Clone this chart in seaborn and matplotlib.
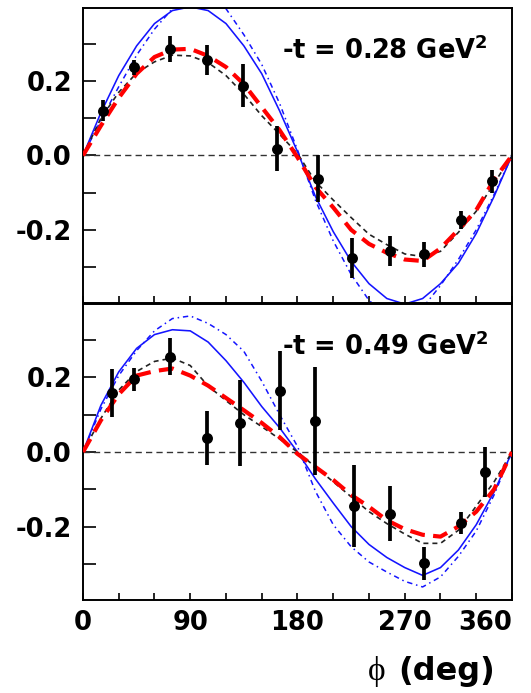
import matplotlib
matplotlib.use("Agg")
import matplotlib.pyplot as plt
import matplotlib.transforms as mtransforms
import seaborn as sns

# ---------------- data ----------------
phi_grid = [0, 15, 30, 45, 60, 75, 90, 105, 120, 135, 150, 165, 180,
            195, 210, 225, 240, 255, 270, 285, 300, 315, 330, 345, 360]

# panel 1 : -t = 0.28 GeV^2
top_blue_solid = [0, 0.115, 0.215, 0.295, 0.355, 0.39, 0.40, 0.39, 0.355, 0.295, 0.22, 0.12, 0.01,
                  -0.11, -0.205, -0.285, -0.345, -0.385, -0.40, -0.385, -0.345, -0.29, -0.21, -0.11, 0]
top_blue_dashdot = [0, 0.095, 0.185, 0.27, 0.34, 0.395, 0.43, 0.435, 0.395, 0.325, 0.245, 0.14, 0.015,
                    -0.12, -0.23, -0.32, -0.39, -0.43, -0.44, -0.41, -0.35, -0.28, -0.20, -0.105, 0]
top_red = [0, 0.08, 0.155, 0.22, 0.265, 0.285, 0.287, 0.268, 0.238, 0.192, 0.13, 0.068, -0.005,
           -0.085, -0.14, -0.2, -0.238, -0.262, -0.28, -0.284, -0.25, -0.2, -0.147, -0.065, 0]
top_black = [0, 0.10, 0.17, 0.222, 0.252, 0.27, 0.268, 0.25, 0.215, 0.165, 0.107, 0.057, 0.005,
             -0.07, -0.12, -0.167, -0.212, -0.24, -0.265, -0.272, -0.258, -0.207, -0.15, -0.075, 0]
top_phi = [17, 43, 73, 104, 134, 163, 197, 226, 258, 286, 317, 343]
top_val = [0.121, 0.237, 0.286, 0.257, 0.188, 0.018, -0.063, -0.277, -0.257, -0.266, -0.174, -0.069]
top_err = [0.027, 0.02, 0.035, 0.04, 0.057, 0.061, 0.063, 0.054, 0.04, 0.034, 0.025, 0.031]

# panel 2 : -t = 0.49 GeV^2
bot_blue_solid = [0, 0.125, 0.215, 0.278, 0.315, 0.328, 0.325, 0.295, 0.245, 0.187, 0.122, 0.065, 0.0,
                  -0.072, -0.137, -0.2, -0.248, -0.283, -0.31, -0.331, -0.31, -0.263, -0.195, -0.107, 0]
bot_blue_dashdot = [0, 0.115, 0.205, 0.272, 0.325, 0.358, 0.365, 0.345, 0.315, 0.27, 0.19, 0.10, 0.015,
                    -0.105, -0.195, -0.254, -0.295, -0.322, -0.347, -0.362, -0.335, -0.28, -0.212, -0.115, 0]
bot_red = [0, 0.085, 0.155, 0.205, 0.217, 0.224, 0.205, 0.178, 0.145, 0.112, 0.078, 0.04, -0.005,
           -0.04, -0.075, -0.115, -0.147, -0.183, -0.207, -0.222, -0.227, -0.2, -0.16, -0.1, 0]
bot_black = [0, 0.09, 0.166, 0.216, 0.243, 0.252, 0.232, 0.177, 0.138, 0.10, 0.068, 0.035, 0.0,
             -0.04, -0.08, -0.12, -0.16, -0.192, -0.22, -0.245, -0.245, -0.21, -0.145, -0.08, 0]
bot_phi = [24, 43, 73, 104, 132, 165, 195, 227, 258, 286, 317, 337]
bot_val = [0.159, 0.195, 0.256, 0.037, 0.077, 0.165, 0.084, -0.145, -0.166, -0.299, -0.19, -0.053]
bot_err = [0.065, 0.03, 0.05, 0.072, 0.115, 0.105, 0.145, 0.11, 0.074, 0.045, 0.03, 0.067]

x_ticks = [0, 30, 60, 90, 120, 150, 180, 210, 240, 270, 300, 330, 360]
x_ticklabels = ["0", "", "", "90", "", "", "180", "", "", "270", "", "", "360"]
y_ticks = [-0.3, -0.2, -0.1, 0.0, 0.1, 0.2, 0.3]
y_ticklabels = ["", "-0.2", "", "0.0", "", "0.2", ""]
panel_labels = ["0.28", "0.49"]

# ---------------- style ----------------
sns.set_theme(style="ticks")
plt.rcParams["font.family"] = ["DejaVu Sans"]
plt.rcParams["font.weight"] = "bold"
plt.rcParams["mathtext.fontset"] = "dejavusans"
plt.rcParams["text.color"] = "black"
plt.rcParams["xtick.color"] = "black"
plt.rcParams["ytick.color"] = "black"
plt.rcParams["xtick.labelcolor"] = "black"
plt.rcParams["ytick.labelcolor"] = "black"

fig = plt.figure(figsize=(5.31, 6.93), dpi=100)
ax1 = fig.add_axes([0.1563, 0.5628, 0.8079, 0.4257])
ax2 = fig.add_axes([0.1563, 0.1342, 0.8079, 0.4271])


def draw(ax, solid, dashdot, red, black, px, pv, pe, tlabel, show_x):
    ax.axhline(0, color="#333333", lw=1.0, linestyle=(0, (4.5, 3)), zorder=1)
    sns.lineplot(x=phi_grid, y=dashdot, ax=ax, color="#1414ff", lw=1.1,
                 linestyle=(0, (3.5, 2.5, 1, 2.5)), errorbar=None, zorder=2)
    sns.lineplot(x=phi_grid, y=solid, ax=ax, color="#1414ff", lw=1.15,
                 errorbar=None, zorder=2)
    sns.lineplot(x=phi_grid, y=black, ax=ax, color="#222222", lw=1.2,
                 linestyle=(0, (3.0, 2.4)), errorbar=None, zorder=3)
    sns.lineplot(x=phi_grid, y=red, ax=ax, color="#ff0000", lw=3.0,
                 linestyle=(0, (3.6, 2.0)), errorbar=None, zorder=3)
    ax.errorbar(px, pv, yerr=pe, fmt="none", ecolor="black", elinewidth=2.7,
                capsize=0, zorder=4)
    sns.scatterplot(x=px, y=pv, ax=ax, color="black", s=62, edgecolor="black",
                    linewidth=0, zorder=5)
    ax.set_xlim(0, 360)
    ax.set_ylim(-0.397, 0.397)
    ax.set_xticks(x_ticks)
    ax.set_yticks(y_ticks)
    ax.set_yticklabels(y_ticklabels)
    if show_x:
        ax.set_xticklabels(x_ticklabels)
        last = ax.get_xticklabels()[-1]
        last.set_horizontalalignment("right")
        last.set_transform(last.get_transform() +
                           mtransforms.ScaledTranslation(3 / 72, 0, fig.dpi_scale_trans))
    else:
        ax.set_xticklabels([])
    ax.tick_params(axis="x", direction="in", length=5, width=1.2, labelsize=18.5,
                   pad=7, top=False, colors="black")
    ax.tick_params(axis="y", direction="in", length=9.5, width=1.2, labelsize=18.5,
                   pad=8, right=False, colors="black")
    for s in ax.spines.values():
        s.set_visible(True)
        s.set_linewidth(1.4)
        s.set_color("black")
    ax.set_xlabel("")
    ax.set_ylabel("")
    ax.text(167, 0.26, "-t = " + tlabel + " GeV$^{\\mathbf{2}}$", fontsize=18.5,
            fontweight="bold", va="baseline", ha="left", color="black", zorder=6)


draw(ax1, top_blue_solid, top_blue_dashdot, top_red, top_black,
     top_phi, top_val, top_err, panel_labels[0], False)
draw(ax2, bot_blue_solid, bot_blue_dashdot, bot_red, bot_black,
     bot_phi, bot_val, bot_err, panel_labels[1], True)

fig.text(0.693, 0.019, "\u03d5", family=["Liberation Serif", "DejaVu Serif"],
         fontweight="normal", fontsize=24, va="baseline", ha="left", color="black")
fig.text(0.932, 0.019, "(deg)", fontsize=23, fontweight="bold",
         va="baseline", ha="right", color="black")

fig.savefig("out.png", dpi=100)
